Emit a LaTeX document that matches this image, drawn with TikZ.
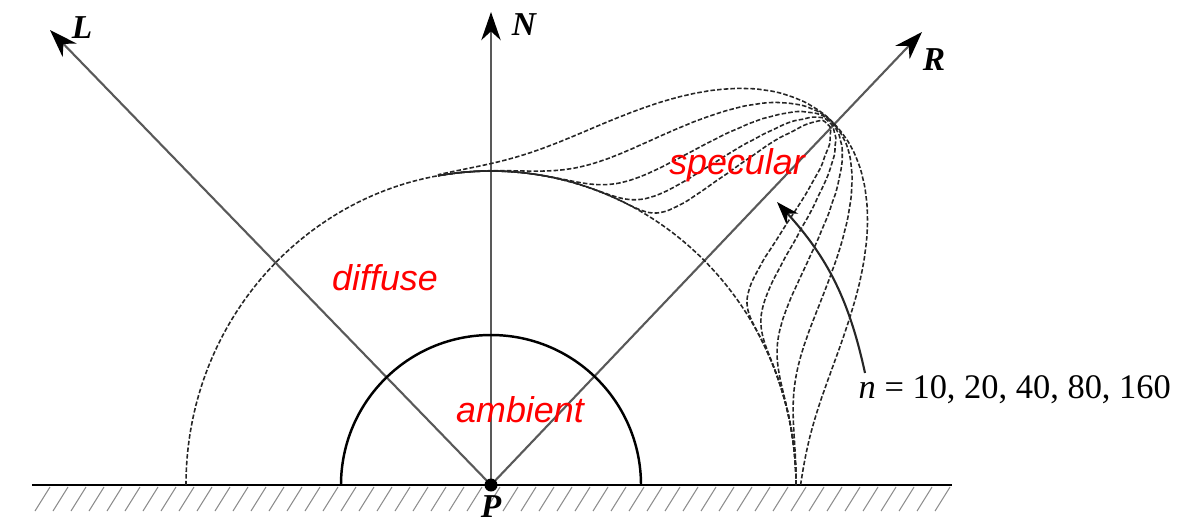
\documentclass[tikz,border=0pt]{standalone}
\usepackage{fontspec}
\setmainfont{Liberation Serif}
\setsansfont{Liberation Sans}
\usetikzlibrary{arrows.meta}
\tikzset{
  rayo/.style={draw=black!65, line width=0.6pt, -{Stealth[length=8pt,width=5.5pt,inset=2.5pt,color=black]}},
  lobulo/.style={black!85, line width=0.45pt, dash pattern=on 1.3pt off 0.6pt},
  etiqueta/.style={font=\fontsize{10.2}{12}\sffamily\itshape, text=red},
  vector/.style={font=\fontsize{9.5}{11}\selectfont\bfseries\itshape},
}

\begin{document}
\begin{tikzpicture}
	\useasboundingbox (-4.91,-0.39) rectangle (6.99,4.85);
	% Superficie con rayado
	\draw[line width=0.7pt] (-4.59,0) -- (4.61,0);
	\foreach \x in {-4.41,-4.23,...,4.63}
		\draw[black!45, line width=0.3pt] (\x,-0.02) -- ++(-0.15,-0.24);
	
	% Vectores L, N, R desde P
	\coordinate (P) at (0,0);
	\coordinate (L) at (-4.41,4.55);
	\coordinate (N) at (0,4.73);
	\coordinate (R) at (4.31,4.53);
	\draw[rayo] (P) -- (L);
	\draw[rayo] (P) -- (N);
	\draw[rayo] (P) -- (R);
	\node[vector] (lblL) at (-4.09,4.57) {L};
	\node[vector] (lblN) at (0.33,4.6) {N};
	\node[vector] (lblR) at (4.43,4.25) {R};
	
	% Componente ambiente
	\draw[line width=0.7pt] (1.5,0) arc (0:180:1.5);
	
	% Componente difusa
	\draw[lobulo] (3.05,0) arc[start angle=0, end angle=180, x radius=3.05, y radius=3.14];
	
	% Lobulos especulares (n = 10 ... 160)
	\foreach \n in {10,20,40,80,160}
		\draw[lobulo] plot[domain=0:100, samples=160, smooth, variable=\t]
			({(3.05+1.89*exp(max(\n*ln(cos(\t-46.4)),-12)))*cos(\t)},
			 {(3.14+1.89*exp(max(\n*ln(cos(\t-46.4)),-12)))*sin(\t)});
	
	% Punto P
	\fill (P) circle (0.065);
	\node[vector, inner sep=1pt] (lblP) at (0,-0.22) {P};
	
	% Textos
	\node[etiqueta] (difusa) at (-1.06,2.07) {diffuse};
	\node[etiqueta] (ambiente) at (0.29,0.75) {ambient};
	\node[etiqueta] (especular) at (2.46,3.2) {specular};
	\node[anchor=west, inner sep=0pt, font=\fontsize{9.8}{12}\selectfont] (exps) at (3.67,0.95)
		{\textit{n} = 10, 20, 40, 80, 160};
	\coordinate (cola) at (3.74,1.12);
	\coordinate (punta) at (2.86,2.83);
	\draw[black!85, line width=0.6pt, -{Stealth[length=6.5pt,width=4.5pt,inset=2pt,color=black]}] (cola) to[bend right=15] (punta);
\end{tikzpicture}
\end{document}
